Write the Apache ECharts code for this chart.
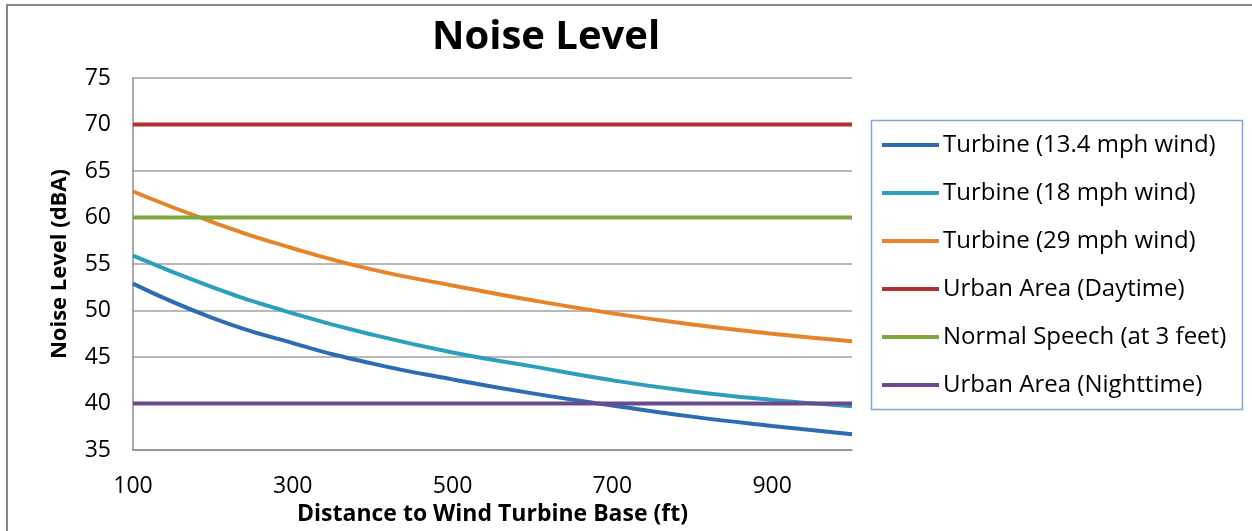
<!DOCTYPE html>
<html>
<head>
<meta charset="utf-8">
<script src="https://cdn.jsdelivr.net/npm/echarts@6/dist/echarts.min.js"></script>
<style>
  html, body { margin: 0; padding: 0; background: #fff; }
  #chart { width: 1252px; height: 531px; }
</style>
</head>
<body>
<div id="chart"></div>
<script>
// distances (ft) and noise levels (dBA)
const distances = [100, 200, 300, 400, 500, 600, 700, 800, 900, 1000];
const turbine134 = [52.9, 49.2, 46.5, 44.3, 42.6, 41.1, 39.8, 38.6, 37.6, 36.7];
const turbine18 = [55.9, 52.5, 49.7, 47.4, 45.5, 44.0, 42.5, 41.3, 40.4, 39.7];
const turbine29 = [62.8, 59.5, 56.7, 54.4, 52.7, 51.1, 49.7, 48.5, 47.5, 46.7];
const urbanDay = [70, 70];
const normalSpeech = [60, 60];
const urbanNight = [40, 40];
const flatX = [100, 1000];

const seriesNames = [
    "Turbine (13.4 mph wind)",
    "Turbine (18 mph wind)",
    "Turbine (29 mph wind)",
    "Urban Area (Daytime)",
    "Normal Speech (at 3 feet)",
    "Urban Area (Nighttime)"
];
const colors = ["#2e6bb0", "#2e9fba", "#e6832b", "#ad3131", "#7fa63d", "#6a4a8e"];

const font = "'Open Sans', Lato, sans-serif";

function pair(xs, ys) {
    return xs.map((x, i) => [x, ys[i]]);
}

function line(name, color, data, smooth) {
    return {
        name: name,
        type: "line",
        smooth: smooth,
        symbol: "none",
        lineStyle: { color: color, width: 4 },
        itemStyle: { color: color },
        data: data
    };
}

const chart = echarts.init(document.getElementById("chart"));
chart.setOption({
    animation: false,
    backgroundColor: "#fff",
    textStyle: { fontFamily: font },
    title: {
        text: "Noise Level",
        left: 541,
        textAlign: "center",
        top: 13,
        textStyle: { fontFamily: font, fontSize: 40, fontWeight: "bold", color: "#000" }
    },
    graphic: [
        {
            type: "rect",
            shape: { x: 7, y: 5, width: 1270, height: 560 },
            style: { fill: "none", stroke: "#878787", lineWidth: 2 },
            silent: true
        },
        {
            type: "rect",
            shape: { x: 871.5, y: 120.5, width: 371, height: 289 },
            style: { fill: "none", stroke: "#7fa6d4", lineWidth: 1.5 },
            silent: true
        }
    ],
    legend: {
        orient: "vertical",
        left: 882,
        top: 133,
        padding: 0,
        itemWidth: 57,
        itemHeight: 4,
        itemGap: 24,
        icon: "rect",
        textStyle: { fontFamily: font, fontSize: 24, lineHeight: 24, color: "#000", padding: [0, 0, 0, -1] },
        data: seriesNames
    },
    grid: {
        left: 133,
        right: 400,
        top: 78,
        bottom: 79
    },
    xAxis: {
        type: "value",
        min: 100,
        max: 1000,
        interval: 200,
        name: "Distance to Wind Turbine Base (ft)",
        nameLocation: "middle",
        nameGap: 50,
        nameTextStyle: { fontFamily: font, fontSize: 23, fontWeight: "bold", color: "#000" },
        axisLine: { show: true, lineStyle: { color: "#8c8c8c", width: 1.5 } },
        axisTick: { show: false },
        splitLine: { show: false },
        axisLabel: { showMaxLabel: false, fontSize: 23, color: "#000", margin: 25 }
    },
    yAxis: {
        type: "value",
        min: 35,
        max: 75,
        interval: 5,
        name: "Noise Level (dBA)",
        nameLocation: "middle",
        nameGap: 62,
        nameTextStyle: { fontFamily: font, fontSize: 22, fontWeight: "bold", color: "#000" },
        axisLine: { show: true, lineStyle: { color: "#8c8c8c", width: 1.5 } },
        axisTick: { show: false },
        splitLine: { show: true, lineStyle: { color: "#a0a0a0", width: 1.5 } },
        axisLabel: { fontSize: 23, color: "#000", margin: 22 }
    },
    series: [
        line(seriesNames[0], colors[0], pair(distances, turbine134), true),
        line(seriesNames[1], colors[1], pair(distances, turbine18), true),
        line(seriesNames[2], colors[2], pair(distances, turbine29), true),
        line(seriesNames[3], colors[3], pair(flatX, urbanDay), false),
        line(seriesNames[4], colors[4], pair(flatX, normalSpeech), false),
        line(seriesNames[5], colors[5], pair(flatX, urbanNight), false)
    ]
});
</script>
</body>
</html>
